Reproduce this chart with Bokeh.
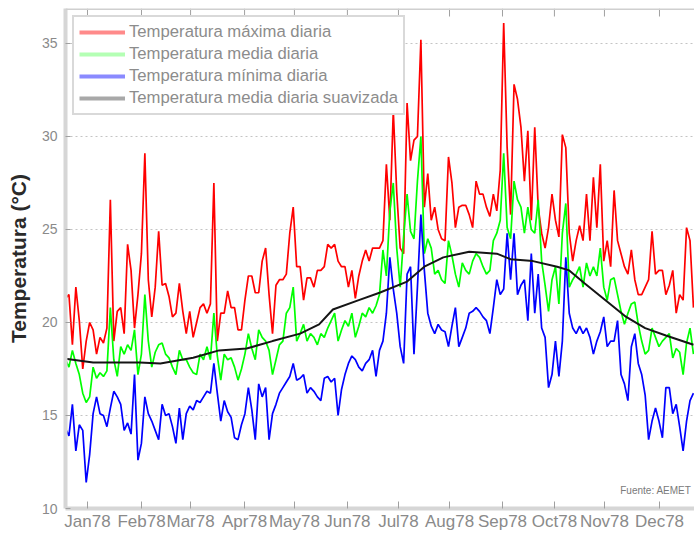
from bokeh.plotting import figure
from bokeh.models import Range1d, FixedTicker, Legend, LegendItem, Label, Span
from bokeh.embed import file_html
from bokeh.resources import INLINE

# day of year index (every 2 days)
days = list(range(0, 365, 2))

t_max = [21.3, 21.5, 18.8, 21.9, 20.1, 17.5, 19.0, 20.0, 19.6, 18.3,
         19.2, 18.9, 19.7, 26.6, 19.0, 20.6, 20.8, 19.4, 24.2, 22.8,
         19.7, 21.5, 23.7, 29.1, 22.3, 20.3, 21.9, 24.9, 22.0, 22.1,
         21.4, 20.3, 20.5, 22.1, 20.6, 19.4, 20.6, 19.2, 20.0, 20.8,
         21.0, 20.5, 21.0, 27.5, 19.0, 20.5, 20.5, 21.7, 20.8, 20.8,
         19.6, 19.6, 21.2, 22.5, 22.5, 21.6, 21.6, 23.3, 24.0, 21.5,
         19.4, 22.0, 22.3, 22.3, 22.6, 24.8, 26.2, 23.0, 23.0, 21.2,
         22.4, 22.4, 21.9, 22.8, 22.8, 23.0, 24.2, 24.0, 24.2, 23.3,
         23.0, 23.0, 21.9, 22.8, 21.3, 22.5, 23.3, 23.9, 23.3, 24.0,
         24.0, 24.0, 24.4, 28.5, 25.5, 31.4, 27.0, 24.0, 23.7, 31.8,
         28.7, 29.8, 30.0, 35.2, 26.2, 28.0, 25.5, 26.2, 25.0, 24.5,
         24.4, 28.9, 27.5, 25.1, 26.2, 26.3, 26.3, 25.8, 25.1, 27.6,
         26.9, 26.9, 26.2, 25.7, 26.9, 26.0, 28.2, 36.1, 29.4, 25.8,
         32.8, 32.0, 30.5, 27.6, 30.3, 25.5, 30.5, 26.2, 24.8, 24.0,
         25.1, 26.9, 25.5, 24.6, 30.1, 29.4, 24.8, 23.3, 24.4, 25.2,
         24.4, 26.9, 24.4, 27.8, 25.1, 28.5, 23.3, 24.4, 23.0, 27.1,
         24.4, 23.7, 23.0, 22.6, 23.9, 22.3, 21.5, 21.5, 21.9, 22.3,
         24.9, 22.6, 22.8, 22.8, 21.5, 22.0, 22.8, 20.5, 21.5, 21.2,
         25.1, 24.4, 20.8]

t_mean = [18.0, 17.6, 18.5, 17.8, 17.2, 16.2, 15.7, 16.0, 17.6, 17.0,
          17.3, 17.1, 17.4, 20.8, 18.0, 17.1, 18.7, 18.3, 18.8, 18.5,
          19.6, 17.2, 18.3, 21.5, 19.0, 17.6, 18.4, 18.8, 18.9, 18.3,
          18.1, 17.6, 17.2, 18.5, 18.0, 18.0, 17.6, 17.3, 17.2, 18.3,
          18.0, 18.7, 18.0, 20.5, 18.2, 16.9, 18.3, 18.0, 18.1, 17.6,
          16.9, 17.5, 18.3, 19.4, 18.6, 18.0, 19.6, 19.2, 19.0, 18.5,
          17.2, 18.0, 18.8, 19.0, 20.5, 20.8, 21.9, 19.0, 19.4, 19.9,
          19.0, 19.4, 19.2, 18.8, 19.4, 19.2, 19.7, 20.1, 20.5, 19.0,
          19.6, 20.1, 19.8, 20.5, 19.2, 19.8, 20.5, 20.3, 20.8, 20.5,
          20.9, 21.5, 23.9, 22.5, 26.0, 27.5, 24.0, 21.9, 24.6, 26.9,
          24.9, 24.5, 27.6, 30.0, 23.7, 24.5, 24.0, 22.6, 22.8, 22.3,
          22.1, 24.4, 23.6, 22.6, 21.9, 23.2, 22.8, 22.6, 23.3, 23.7,
          23.5, 23.0, 22.6, 22.8, 24.4, 24.8, 25.5, 29.1, 25.1, 24.5,
          27.6, 26.6, 26.2, 24.8, 26.2, 25.0, 24.8, 26.6, 23.3, 22.0,
          20.6, 22.3, 23.0, 21.0, 24.8, 26.4, 21.9, 22.3, 22.6, 23.0,
          21.9, 23.2, 22.5, 23.0, 22.5, 24.0, 21.9, 21.2, 22.3, 22.4,
          21.5, 20.6, 19.9, 20.5, 21.0, 21.1, 19.9, 19.0, 18.3, 18.5,
          19.7, 19.2, 18.7, 19.0, 19.2, 19.4, 18.1, 18.6, 18.4, 17.2,
          18.9, 19.7, 18.3]

t_min = [14.3, 13.9, 15.6, 13.1, 14.5, 14.2, 11.4, 12.9, 15.1, 16.0,
         15.1, 15.0, 14.4, 15.4, 16.3, 16.0, 15.6, 14.2, 14.6, 14.0,
         17.2, 12.6, 13.5, 16.0, 15.1, 14.7, 14.2, 13.7, 15.6, 15.0,
         15.1, 14.4, 13.5, 15.4, 13.7, 15.1, 15.5, 15.3, 15.8, 15.7,
         16.0, 16.3, 16.2, 17.8, 16.2, 14.7, 15.8, 15.2, 14.9, 13.8,
         13.7, 14.5, 15.1, 16.5, 15.3, 13.7, 16.7, 16.0, 16.5, 13.7,
         15.1, 15.6, 16.2, 16.5, 16.8, 17.1, 17.8, 16.9, 17.0, 17.2,
         16.2, 16.5, 16.3, 16.0, 15.8, 17.0, 17.1, 16.8, 17.0, 15.0,
         16.4, 17.2, 17.8, 18.2, 18.0, 17.6, 17.4, 17.8, 18.0, 18.5,
         17.1, 18.5, 19.0, 20.5, 23.5, 21.8, 20.5, 18.7, 17.8, 22.6,
         23.0, 18.3, 21.9, 25.8, 22.8, 20.5, 19.8, 19.4, 19.9, 19.6,
         19.5, 18.7, 19.8, 20.8, 18.7, 19.2, 19.7, 20.5, 20.6, 20.8,
         20.6, 20.3, 20.1, 19.4, 20.8, 22.3, 21.5, 21.8, 24.8, 22.3,
         24.8, 21.5, 22.0, 22.3, 20.1, 23.7, 20.5, 22.6, 19.7, 19.2,
         16.5, 17.2, 19.0, 17.1, 19.0, 23.5, 20.5, 19.7, 19.4, 19.8,
         19.4, 19.7, 19.2, 18.3, 19.0, 19.5, 20.3, 18.7, 19.0, 19.0,
         20.1, 17.2, 16.7, 15.8, 18.7, 19.4, 17.8, 17.2, 16.1, 13.7,
         14.7, 15.4, 14.7, 13.8, 16.5, 16.5, 15.1, 15.6, 14.4, 13.1,
         14.7, 15.8, 16.2]

smooth_days = [0, 16, 43, 55, 74, 89, 105, 120, 136, 147, 155, 170, 182, 198,
               208, 219, 234, 250, 258, 271, 285, 292, 301, 313, 325, 336, 348, 364]
t_smooth = [18.05, 17.85, 17.85, 17.8, 18.1, 18.5, 18.6, 19.0, 19.4, 19.9, 20.7,
            21.2, 21.6, 22.2, 23.0, 23.5, 23.8, 23.7, 23.4, 23.3, 23.0, 22.8,
            22.1, 21.2, 20.3, 19.7, 19.3, 18.8]

tick_days = [12.75, 44.05, 72.5, 103.8, 132.7, 163.4, 193.0, 222.6, 253.3, 283.4, 312.4, 344.3]
tick_labels = ["Jan78", "Feb78", "Mar78", "Apr78", "May78", "Jun78",
               "Jul78", "Aug78", "Sep78", "Oct78", "Nov78", "Dec78"]
y_ticks = [10, 15, 20, 25, 30, 35]

legend_labels = ["Temperatura máxima diaria", "Temperatura media diaria",
                 "Temperatura mínima diaria", "Temperatura media diaria suavizada"]

FONT = "Liberation Sans"
AXIS_GREY = "#d6d6d6"
Y_LO, Y_HI = 10, 36.88

p = figure(width=694, height=533, output_backend="svg", toolbar_location=None,
           x_range=Range1d(0, 364.6), y_range=Range1d(Y_LO, Y_HI),
           min_border_left=65, min_border_right=0, min_border_top=8, min_border_bottom=25)
p.outline_line_color = None
p.background_fill_color = "white"
p.border_fill_color = "white"

# grid
p.xgrid.visible = False
p.ygrid.ticker = FixedTicker(ticks=y_ticks)
p.ygrid.grid_line_color = "#c4c4c4"
p.ygrid.grid_line_dash = "2 3"
p.ygrid.grid_line_width = 1

# x axis
xa = p.xaxis[0]
xa.ticker = FixedTicker(ticks=tick_days)
xa.major_label_overrides = {t: l for t, l in zip(tick_days, tick_labels)}
xa.major_label_text_font = FONT
xa.major_label_text_font_size = "17px"
xa.major_label_text_color = "#8a8a8a"
xa.major_label_standoff = 3
xa.major_tick_in = 7
xa.major_tick_out = 0
xa.minor_tick_line_color = None
xa.major_tick_line_color = "#a0a0a0"
xa.axis_line_color = AXIS_GREY
xa.axis_line_width = 4

# y axis
ya = p.yaxis[0]
ya.ticker = FixedTicker(ticks=y_ticks)
ya.major_label_text_font = FONT
ya.major_label_text_font_size = "14px"
ya.major_label_text_color = "#8a8a8a"
ya.major_label_standoff = 8
ya.major_tick_in = 5
ya.major_tick_out = 0
ya.minor_tick_line_color = None
ya.major_tick_line_color = "#a0a0a0"
ya.axis_line_color = AXIS_GREY
ya.axis_line_width = 4
ya.axis_label = "Temperatura (°C)"
ya.axis_label_text_font = FONT
ya.axis_label_text_font_size = "21px"
ya.axis_label_text_font_style = "bold"
ya.axis_label_text_color = "#2a2a2a"
ya.axis_label_standoff = 9

# top box line with inward month ticks
p.add_layout(Span(location=Y_HI, dimension="width", line_color="#cfcfcf", line_width=3))
tick_len = 8 / 18.6
p.segment(x0=tick_days, y0=[Y_HI] * len(tick_days), x1=tick_days,
          y1=[Y_HI - tick_len] * len(tick_days), line_color="#a0a0a0", line_width=1)

# data lines
p.line(days, t_max, line_color="#ff0000", line_width=1.7)
p.line(days, t_mean, line_color="#00ff00", line_width=1.7)
p.line(days, t_min, line_color="#0000ff", line_width=1.7)
p.line(smooth_days, t_smooth, line_color="#151515", line_width=2)

# legend swatches (pale, as in the original); renderers hold no visible data
swatch_colors = ["#ff8a8a", "#b4ffb4", "#8a8aff", "#a8a8a8"]
items = []
nan = float("nan")
for lab, col in zip(legend_labels, swatch_colors):
    r = p.line([nan], [nan], line_color=col, line_width=4)
    items.append(LegendItem(label=lab, renderers=[r]))

legend = Legend(items=items, location="top_left", margin=7, padding=5, spacing=2,
                glyph_width=46, glyph_height=20, label_height=20, label_standoff=4,
                label_text_font=FONT, label_text_font_size="16.7px",
                label_text_color="#8c8c8c", border_line_color="#b4b4b4",
                border_line_width=2, background_fill_color="white",
                background_fill_alpha=1)
p.add_layout(legend)

src = Label(x=362.8, y=10.97, text="Fuente: AEMET", text_align="right",
            text_baseline="middle", text_font=FONT, text_font_size="10px",
            text_color="#7a7a7a")
p.add_layout(src)

open("out.html", "w").write(file_html(p, INLINE))
